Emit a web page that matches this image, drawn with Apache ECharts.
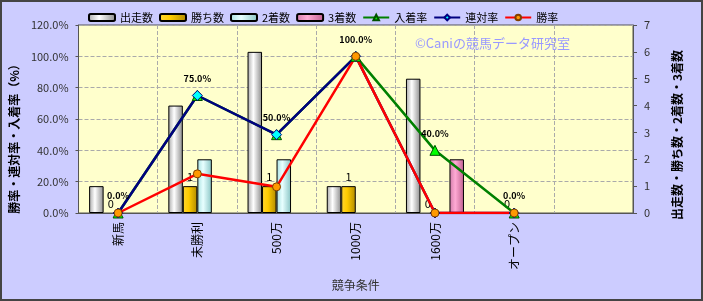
<!DOCTYPE html>
<html>
<head>
<meta charset="utf-8">
<script src="https://cdn.jsdelivr.net/npm/echarts@6/dist/echarts.min.js"></script>
<style>
html,body{margin:0;padding:0;background:#ccccff;}
#c{width:703px;height:301px;}
</style>
</head>
<body>
<div id="c"></div>
<script>
var categories = ['新馬', '未勝利', '500万', '1000万', '1600万', 'オープン', ''];
var starts = [1, 4, 6, 1, 5, 0];
var wins = [0, 1, 1, 1, 0, 0];
var seconds = [0, 2, 2, 0, 0, 0];
var thirds = [0, 0, 0, 0, 2, 0];
var placeRate = [0, 75, 50, 100, 40, 0];
var rentaiRate = [0, 75, 50, 100, 0, 0];
var winRate = [0, 25, 16.7, 100, 0, 0];
var leftTicks = {min: 0, max: 120, interval: 20};
var rightTicks = {min: 0, max: 7, interval: 1};

var FONT = '"Noto Sans CJK JP", "Noto Sans", sans-serif';
function grad(a, b, c) {
  return new echarts.graphic.LinearGradient(0, 0, 1, 0, [
    {offset: 0, color: a}, {offset: 0.4, color: b}, {offset: 1, color: c}
  ]);
}
function barSeries(name, data, colors, label) {
  return {
    name: name, type: 'bar', yAxisIndex: 1,
    data: data.map(function (v) { return v === 0 ? {value: 0, itemStyle: {borderWidth: 0}} : v; }),
    barWidth: 14.5, barGap: '0%',
    itemStyle: {color: grad(colors[0], colors[1], colors[2]), borderColor: '#000', borderWidth: 1},
    label: label ? {show: true, position: 'top', distance: 4, color: '#000', fontSize: 11, fontFamily: FONT} : {show: false},
    z: 2
  };
}
function lineSeries(name, data, lineColor, symbol, size, fill, border, label) {
  return {
    name: name, type: 'line', yAxisIndex: 0, data: data,
    symbol: symbol, symbolSize: size,
    lineStyle: {color: lineColor, width: 2.5},
    itemStyle: {color: fill, borderColor: border, borderWidth: 1},
    label: label ? {
      show: true, position: 'top', distance: 7, color: '#000', fontSize: 9, fontWeight: 'bold', fontFamily: FONT,
      formatter: function (p) { return p.value.toFixed(1) + '%'; }
    } : {show: false},
    z: 5
  };
}

var chart = echarts.init(document.getElementById('c'), null, {renderer: 'canvas'});
chart.setOption({
  backgroundColor: '#ccccff',
  animation: false,
  textStyle: {fontFamily: FONT},
  legend: {
    left: 83, top: 7, itemWidth: 26, itemHeight: 7, itemGap: 6,
    textStyle: {fontSize: 11, color: '#000', fontFamily: FONT},
    data: ['出走数', '勝ち数', '2着数', '3着数', '入着率', '連対率', '勝率']
  },
  grid: {
    left: 77, right: 70, top: 25, bottom: 88,
    show: true, backgroundColor: '#ffffcc', borderColor: '#555', borderWidth: 1
  },
  graphic: [
    {type: 'text', left: 415, top: 37, z: 1,
      style: {text: '©Caniの競馬データ研究室', fill: '#9999ff', fontSize: 13, fontFamily: FONT}},
    {type: 'rect', shape: {x: 1, y: 1, width: 701, height: 299}, z: 100,
      style: {fill: 'none', stroke: '#444', lineWidth: 2}}
  ],
  xAxis: {
    type: 'category', data: categories, boundaryGap: true,
    name: '競争条件', nameLocation: 'middle', nameGap: 66,
    nameTextStyle: {fontSize: 12, color: '#333', fontFamily: FONT},
    axisLine: {show: true, lineStyle: {color: '#555'}},
    axisTick: {show: false},
    axisLabel: {rotate: 90, fontSize: 12, color: '#000', margin: 9, interval: 0, fontFamily: FONT},
    splitLine: {show: true, interval: 0, lineStyle: {color: '#aaa', type: 'dashed'}}
  },
  yAxis: [
    {
      type: 'value', min: leftTicks.min, max: leftTicks.max, interval: leftTicks.interval,
      name: '勝率・連対率・入着率（%）', nameLocation: 'middle', nameRotate: 90, nameGap: 55,
      nameTextStyle: {fontSize: 12, fontWeight: 'bold', color: '#000', padding: [0, 34, 0, 0], fontFamily: FONT},
      axisLine: {show: true, lineStyle: {color: '#555'}},
      axisTick: {show: true, length: 3, lineStyle: {color: '#555'}},
      axisLabel: {fontSize: 11, color: '#333', margin: 10, fontFamily: FONT,
        formatter: function (v) { return v.toFixed(1) + '%'; }},
      splitLine: {show: true, lineStyle: {color: '#aaa', type: 'dashed'}}
    },
    {
      type: 'value', min: rightTicks.min, max: rightTicks.max, interval: rightTicks.interval,
      position: 'right',
      name: '出走数・勝ち数・2着数・3着数', nameLocation: 'middle', nameRotate: 90, nameGap: 38,
      nameTextStyle: {fontSize: 12, fontWeight: 'bold', color: '#000', padding: [0, 32, 0, 0], fontFamily: FONT},
      axisLine: {show: true, lineStyle: {color: '#555'}},
      axisTick: {show: true, length: 4, lineStyle: {color: '#555'}},
      axisLabel: {fontSize: 11, color: '#333', margin: 11, fontFamily: FONT},
      splitLine: {show: false}
    }
  ],
  series: [
    barSeries('出走数', starts, ['#a8a8a8', '#ffffff', '#8c8c8c'], false),
    barSeries('勝ち数', wins, ['#ffd633', '#ffcc00', '#b08a00'], true),
    barSeries('2着数', seconds, ['#a8e0e0', '#e8ffff', '#88c4c4'], false),
    barSeries('3着数', thirds, ['#d07aa8', '#ffaad4', '#c06090'], false),
    lineSeries('入着率', placeRate, '#008000', 'triangle', 10, '#00ff00', '#005000', true),
    lineSeries('連対率', rentaiRate, '#000080', 'diamond', 10, '#00ffff', '#000080', false),
    lineSeries('勝率', winRate, '#ff0000', 'circle', 8, '#ff9900', '#804000', false)
  ]
});
</script>
</body>
</html>
